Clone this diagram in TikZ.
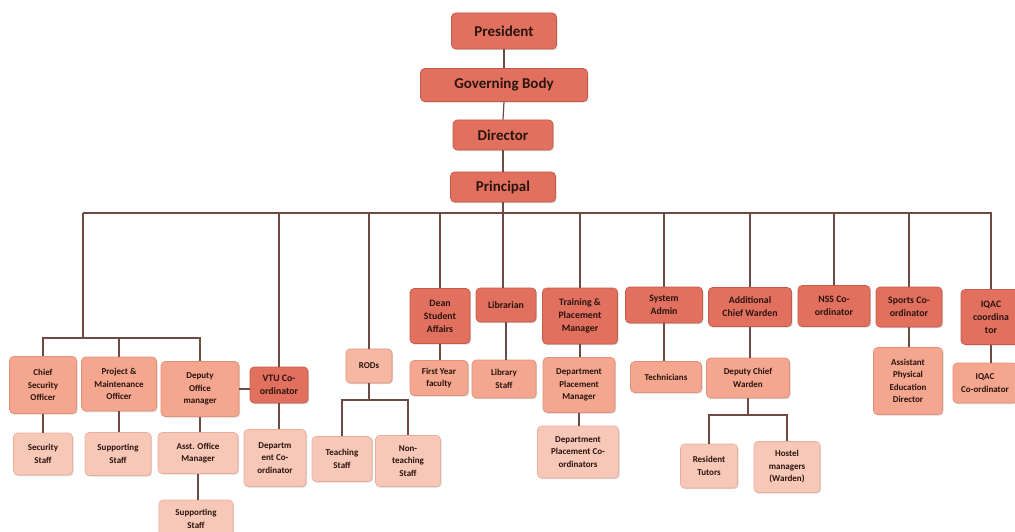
\documentclass[tikz,border=0pt]{standalone}
\usepackage{fontspec}
\setmainfont{Carlito}
\usetikzlibrary{shadows}
\definecolor{darkfill}{HTML}{E2705F}
\definecolor{darkdraw}{HTML}{C45A4A}
\definecolor{midfill}{HTML}{F4A68F}
\definecolor{middraw}{HTML}{E0907A}
\definecolor{lightfill}{HTML}{F7C7B7}
\definecolor{lightdraw}{HTML}{E8AE9C}
\definecolor{rodfill}{HTML}{F6B8A3}
\definecolor{txt}{HTML}{2A140E}
\definecolor{conncol}{HTML}{6E4A44}
\tikzset{
  box/.style={rounded corners=4pt, line width=0.6pt, align=center, text=txt, inner sep=1pt,
    drop shadow={shadow xshift=1pt, shadow yshift=-1.2pt, opacity=0.25, fill=black!60}},
  topbox/.style={box, fill=darkfill, draw=darkdraw, font=\fontsize{15}{18}\selectfont\bfseries},
  darkbox/.style={box, fill=darkfill, draw=darkdraw, font=\fontsize{9.8}{13}\selectfont\bfseries},
  midbox/.style={box, fill=midfill, draw=middraw, font=\fontsize{9}{12.5}\selectfont\bfseries},
  lightbox/.style={box, fill=lightfill, draw=lightdraw, font=\fontsize{9}{12.5}\selectfont\bfseries},
  rodbox/.style={box, fill=rodfill, draw=middraw, font=\fontsize{9}{12.5}\selectfont\bfseries},
  conn/.style={draw=conncol, line width=1.2pt},
  sz/.style 2 args={minimum width=#1, minimum height=#2}
}
\begin{document}
\begin{tikzpicture}[x=1pt,y=-1pt]
\useasboundingbox (0,0) rectangle (1015,532);
% top chain
\node[topbox, sz={105pt}{36pt}] (president) at (504,31) {President};
\node[topbox, sz={167pt}{33pt}] (gov) at (504,85) {Governing Body};
\node[topbox, sz={100pt}{30pt}] (director) at (503,135) {Director};
\node[topbox, sz={105pt}{30pt}] (principal) at (503,187) {Principal};
% level 2
\node[darkbox, sz={60pt}{55pt}] (dean) at (440,316) {Dean\\Student\\Affairs};
\node[darkbox, sz={60pt}{34pt}] (librarian) at (506,305) {Librarian};
\node[darkbox, sz={75pt}{56pt}] (training) at (580,316) {Training \&\\Placement\\Manager};
\node[darkbox, sz={77pt}{36pt}] (sysadmin) at (664,305) {System\\Admin};
\node[darkbox, sz={83pt}{39pt}] (acw) at (750,307) {Additional\\Chief Warden};
\node[darkbox, sz={72pt}{41pt}] (nss) at (834,306) {NSS Co-\\ordinator};
\node[darkbox, sz={66pt}{40pt}] (sports) at (909,307) {Sports Co-\\ordinator};
\node[darkbox, sz={60pt}{55pt}] (iqac) at (991,317) {IQAC\\coordina\\tor};
% level 3
\node[midbox, sz={58pt}{35pt}] (fyf) at (439,378) {First Year\\faculty};
\node[midbox, sz={64pt}{38pt}] (libstaff) at (504,379) {Library\\Staff};
\node[midbox, sz={72pt}{55pt}] (dpm) at (579,385) {Department\\Placement\\Manager};
\node[midbox, sz={71pt}{31pt}] (tech) at (666,377) {Technicians};
\node[midbox, sz={83pt}{40pt}] (dcw) at (748,378) {Deputy Chief\\Warden};
\node[midbox, sz={69pt}{67pt}] (aped) at (908,381) {Assistant\\Physical\\Education\\Director};
\node[midbox, sz={64pt}{40pt}] (iqacco) at (985,383) {IQAC\\Co-ordinator};
% level 4
\node[lightbox, sz={81pt}{52pt}] (dpc) at (578,452) {Department\\Placement Co-\\ordinators};
\node[lightbox, sz={57pt}{44pt}] (rt) at (709,466) {Resident\\Tutors};
\node[lightbox, sz={66pt}{51pt}] (hm) at (787,467) {Hostel\\managers\\(Warden)};
% left group
\node[midbox, sz={67pt}{57pt}] (cso) at (43,385) {Chief\\Security\\Officer};
\node[midbox, sz={75pt}{54pt}] (pmo) at (119,384) {Project \&\\Maintenance\\Officer};
\node[midbox, sz={78pt}{55pt}] (dom) at (200,389) {Deputy\\Office\\manager};
\node[darkbox, sz={58pt}{36pt}] (vtu) at (279,385) {VTU Co-\\ordinator};
\node[lightbox, sz={59pt}{42pt}] (secstaff) at (43,454) {Security\\Staff};
\node[lightbox, sz={66pt}{43pt}] (supstaffa) at (118,454) {Supporting\\Staff};
\node[lightbox, sz={80pt}{41pt}] (aom) at (198,453) {Asst. Office\\Manager};
\node[lightbox, sz={74pt}{38pt}] (supstaffb) at (196,519) {Supporting\\Staff};
\node[lightbox, sz={62pt}{57pt}] (dept) at (275,458) {Departm\\ent Co-\\ordinator};
% RODs
\node[rodbox, sz={46pt}{34pt}] (rods) at (369,366) {RODs};
\node[lightbox, sz={60pt}{45pt}] (teach) at (342,459) {Teaching\\Staff};
\node[lightbox, sz={65pt}{51pt}] (nonteach) at (408,461) {Non-\\teaching\\Staff};
% junction coordinates
\coordinate (busL) at (83,213);
\coordinate (leftj) at (83,338);
\coordinate (rodj) at (369,400);
\coordinate (dcwj) at (748,415);
% connectors: top chain
\draw[conn] (president.south) -- (gov.north);
\draw[conn] (gov.south) -- (director.north);
\draw[conn] (director.south) -- (principal.north);
\draw[conn] (principal.south) -- (principal.south |- librarian.north);
% bus
\draw[conn] (busL) -- (iqac.north |- busL) -- (iqac.north);
\draw[conn] (busL) -- (leftj);
\foreach \n in {vtu,rods,dean,training,sysadmin,acw,nss,sports}
  \draw[conn] (\n.north) -- (\n.north |- busL);
% left group
\draw[conn] (cso.north) -- (cso.north |- leftj) -- (dom.north |- leftj) -- (dom.north);
\draw[conn] (pmo.north) -- (pmo.north |- leftj);
\draw[conn] (dom.east) -- (vtu.west |- dom.east);
% vertical links
\draw[conn] (cso.south) -- (cso.south |- secstaff.north);
\draw[conn] (pmo.south) -- (pmo.south |- supstaffa.north);
\draw[conn] (dom.south) -- (dom.south |- aom.north);
\draw[conn] (aom.south) -- (aom.south |- supstaffb.north);
\draw[conn] (vtu.south) -- (vtu.south |- dept.north);
\draw[conn] (dean.south) -- (dean.south |- fyf.north);
\draw[conn] (librarian.south) -- (librarian.south |- libstaff.north);
\draw[conn] (training.south) -- (training.south |- dpm.north);
\draw[conn] (dpm.south) -- (dpm.south |- dpc.north);
\draw[conn] (sysadmin.south) -- (sysadmin.south |- tech.north);
\draw[conn] (acw.south) -- (acw.south |- dcw.north);
\draw[conn] (sports.south) -- (sports.south |- aped.north);
\draw[conn] (iqac.south) -- (iqac.south |- iqacco.north);
% RODs branch
\draw[conn] (rods.south) -- (rodj);
\draw[conn] (teach.north) -- (teach.north |- rodj) -- (nonteach.north |- rodj) -- (nonteach.north);
% Deputy chief warden branch
\draw[conn] (dcw.south) -- (dcwj);
\draw[conn] (rt.north) -- (rt.north |- dcwj) -- (hm.north |- dcwj) -- (hm.north);
\end{tikzpicture}
\end{document}
